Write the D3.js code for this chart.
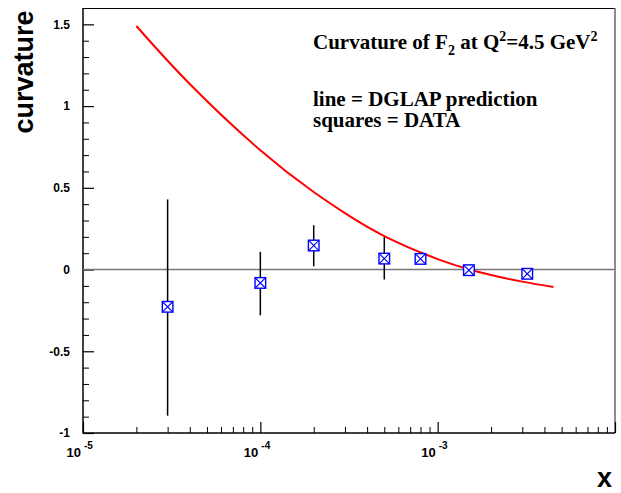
<!DOCTYPE html>
<html><head><meta charset="utf-8">
<script src="https://cdn.jsdelivr.net/npm/d3@7"></script>
<style>html,body{margin:0;padding:0;background:#fff;}svg{display:block;}</style>
</head><body>
<svg id="chart" width="621" height="493"></svg>
<script>
// ---- data ----
const dataX = [3e-5, 1e-4, 2e-4, 5e-4, 8e-4, 1.5e-3, 3.2e-3];
const dataY = [-0.228, -0.082, 0.147, 0.067, 0.065, -0.004, -0.026];
const errUp = [0.657, 0.19, 0.124, 0.131, 0.02, 0.01, 0.01];
const errDown = [0.666, 0.198, 0.127, 0.128, 0.02, 0.01, 0.01];
const curveX = [2e-5, 4e-5, 1e-4, 2e-4, 3e-4, 5e-4, 1e-3, 1.5e-3, 2e-3, 3e-3, 4.5e-3];
const curveY = [1.49, 1.135, 0.73, 0.474, 0.345, 0.205, 0.064, 0.002, -0.033, -0.074, -0.107];
const yMajorTicks = [-1, -0.5, 0, 0.5, 1, 1.5];
const yTickLabels = ["-1", "-0.5", "0", "0.5", "1", "1.5"];
const xMajorTicks = [1e-5, 1e-4, 1e-3, 1e-2];
const xTickExponents = ["-5", "-4", "-3", ""];
const titleText = "Curvature of F";
const legendLines = ["line = DGLAP prediction", "squares = DATA"];

// ---- layout ----
const L = 83, R = 615, T = 8, B = 433;
const svg = d3.select("#chart");
const x = d3.scaleLog().domain([1e-5, 1e-2]).range([L, R]);
const y = d3.scaleLinear().domain([-1, 1.6]).range([B, T]);

// frame top/right
svg.append("line").attr("x1", L).attr("x2", R).attr("y1", T + 0.5).attr("y2", T + 0.5)
  .attr("stroke", "#000").attr("stroke-width", 1);
svg.append("line").attr("x1", R).attr("x2", R).attr("y1", T).attr("y2", B)
  .attr("stroke", "#666").attr("stroke-width", 1.5);

// y minor ticks
const yMinor = d3.range(-10, 16).map(d => d / 10).filter(v => !yMajorTicks.some(m => Math.abs(m - v) < 1e-9));
svg.append("g").attr("transform", `translate(${L},0)`)
  .call(d3.axisLeft(y).tickValues(yMinor).tickSize(-6).tickFormat(""))
  .call(g => g.select(".domain").remove())
  .selectAll("line").attr("stroke", "#000").attr("stroke-width", 1);
// y major
const yAx = svg.append("g").attr("transform", `translate(${L},0)`)
  .call(d3.axisLeft(y).tickValues(yMajorTicks).tickSize(-11).tickPadding(13)
    .tickFormat((d, i) => yTickLabels[i]));
yAx.select(".domain").remove();
yAx.selectAll("line").attr("stroke", "#000").attr("stroke-width", 1.2);
yAx.selectAll("text").attr("font-family", "Liberation Sans, Arial, sans-serif")
  .attr("font-weight", "bold").attr("font-size", 12).attr("fill", "#000");

// x minor ticks
const xMinor = [];
[1e-5, 1e-4, 1e-3].forEach(dec => { for (let k = 2; k <= 9; k++) xMinor.push(k * dec); });
svg.append("g").attr("transform", `translate(0,${B})`)
  .call(d3.axisBottom(x).tickValues(xMinor).tickSize(-6).tickFormat(""))
  .call(g => g.select(".domain").remove())
  .selectAll("line").attr("stroke", "#000").attr("stroke-width", 1);
const xAx = svg.append("g").attr("transform", `translate(0,${B})`)
  .call(d3.axisBottom(x).tickValues(xMajorTicks).tickSize(-11).tickFormat(""));
xAx.select(".domain").remove();
xAx.selectAll("line").attr("stroke", "#000").attr("stroke-width", 1.2);
// x tick labels 10^n
xMajorTicks.forEach((t, i) => {
  if (!xTickExponents[i]) return;
  const px = x(t);
  svg.append("text").attr("x", px - 2).attr("y", B + 24).attr("text-anchor", "end")
    .attr("font-family", "Liberation Sans, Arial, sans-serif").attr("font-weight", "bold")
    .attr("font-size", 13).text("10");
  svg.append("text").attr("x", px + 1).attr("y", B + 16)
    .attr("font-family", "Liberation Sans, Arial, sans-serif").attr("font-weight", "bold")
    .attr("font-size", 10).text(xTickExponents[i]);
});

// axes lines
svg.append("line").attr("x1", L).attr("x2", L).attr("y1", T).attr("y2", B + 0.5)
  .attr("stroke", "#000").attr("stroke-width", 1.5);
svg.append("line").attr("x1", L).attr("x2", R).attr("y1", B).attr("y2", B)
  .attr("stroke", "#000").attr("stroke-width", 1.5);

// zero line
svg.append("line").attr("x1", L).attr("x2", R).attr("y1", y(0)).attr("y2", y(0))
  .attr("stroke", "#777").attr("stroke-width", 1.5);

// DGLAP curve
const curvePts = curveX.map((d, i) => [d, curveY[i]]);
svg.append("path").datum(curvePts)
  .attr("d", d3.line().x(d => x(d[0])).y(d => y(d[1])).curve(d3.curveNatural))
  .attr("fill", "none").attr("stroke", "#ff0000").attr("stroke-width", 2);

// error bars
const pts = dataX.map((d, i) => ({x: d, y: dataY[i], up: errUp[i], dn: errDown[i]}));
svg.append("g").selectAll("line").data(pts).join("line")
  .attr("x1", d => x(d.x)).attr("x2", d => x(d.x))
  .attr("y1", d => y(d.y + d.up)).attr("y2", d => y(d.y - d.dn))
  .attr("stroke", "#000").attr("stroke-width", 1.5);

// markers: open square with X
const s = 5.3;
const mk = svg.append("g").selectAll("g").data(pts).join("g")
  .attr("transform", d => `translate(${x(d.x)},${y(d.y)})`);
mk.append("rect").attr("x", -s).attr("y", -s).attr("width", 2 * s).attr("height", 2 * s)
  .attr("fill", "#fff").attr("stroke", "#0000ff").attr("stroke-width", 1.4);
mk.append("path").attr("d", `M${-s},${-s}L${s},${s}M${s},${-s}L${-s},${s}`)
  .attr("stroke", "#0000ff").attr("stroke-width", 1.1);

// title
const ttl = svg.append("text").attr("x", 313).attr("y", 49)
  .attr("font-family", "Liberation Serif, Times New Roman, serif").attr("font-weight", "bold")
  .attr("font-size", 21).attr("fill", "#000");
ttl.append("tspan").text(titleText);
ttl.append("tspan").attr("font-size", 14).attr("dy", 6).text("2");
ttl.append("tspan").attr("dy", -6).text(" at Q");
ttl.append("tspan").attr("font-size", 14).attr("dy", -8).text("2");
ttl.append("tspan").attr("dy", 8).text("=4.5 GeV");
ttl.append("tspan").attr("font-size", 14).attr("dy", -8).text("2");

legendLines.forEach((t, i) => {
  svg.append("text").attr("x", 313).attr("y", 106 + i * 21)
    .attr("font-family", "Liberation Serif, Times New Roman, serif").attr("font-weight", "bold")
    .attr("font-size", 21).attr("fill", "#000").text(t);
});

// axis titles
svg.append("text").attr("transform", "translate(33,72) rotate(-90)")
  .attr("text-anchor", "middle").attr("font-family", "Liberation Sans, Arial, sans-serif")
  .attr("font-weight", "bold").attr("font-size", 27).text("curvature");
svg.append("text").attr("x", 612).attr("y", 487).attr("text-anchor", "end")
  .attr("font-family", "Liberation Sans, Arial, sans-serif")
  .attr("font-weight", "bold").attr("font-size", 27).text("x");
</script>
</body></html>
